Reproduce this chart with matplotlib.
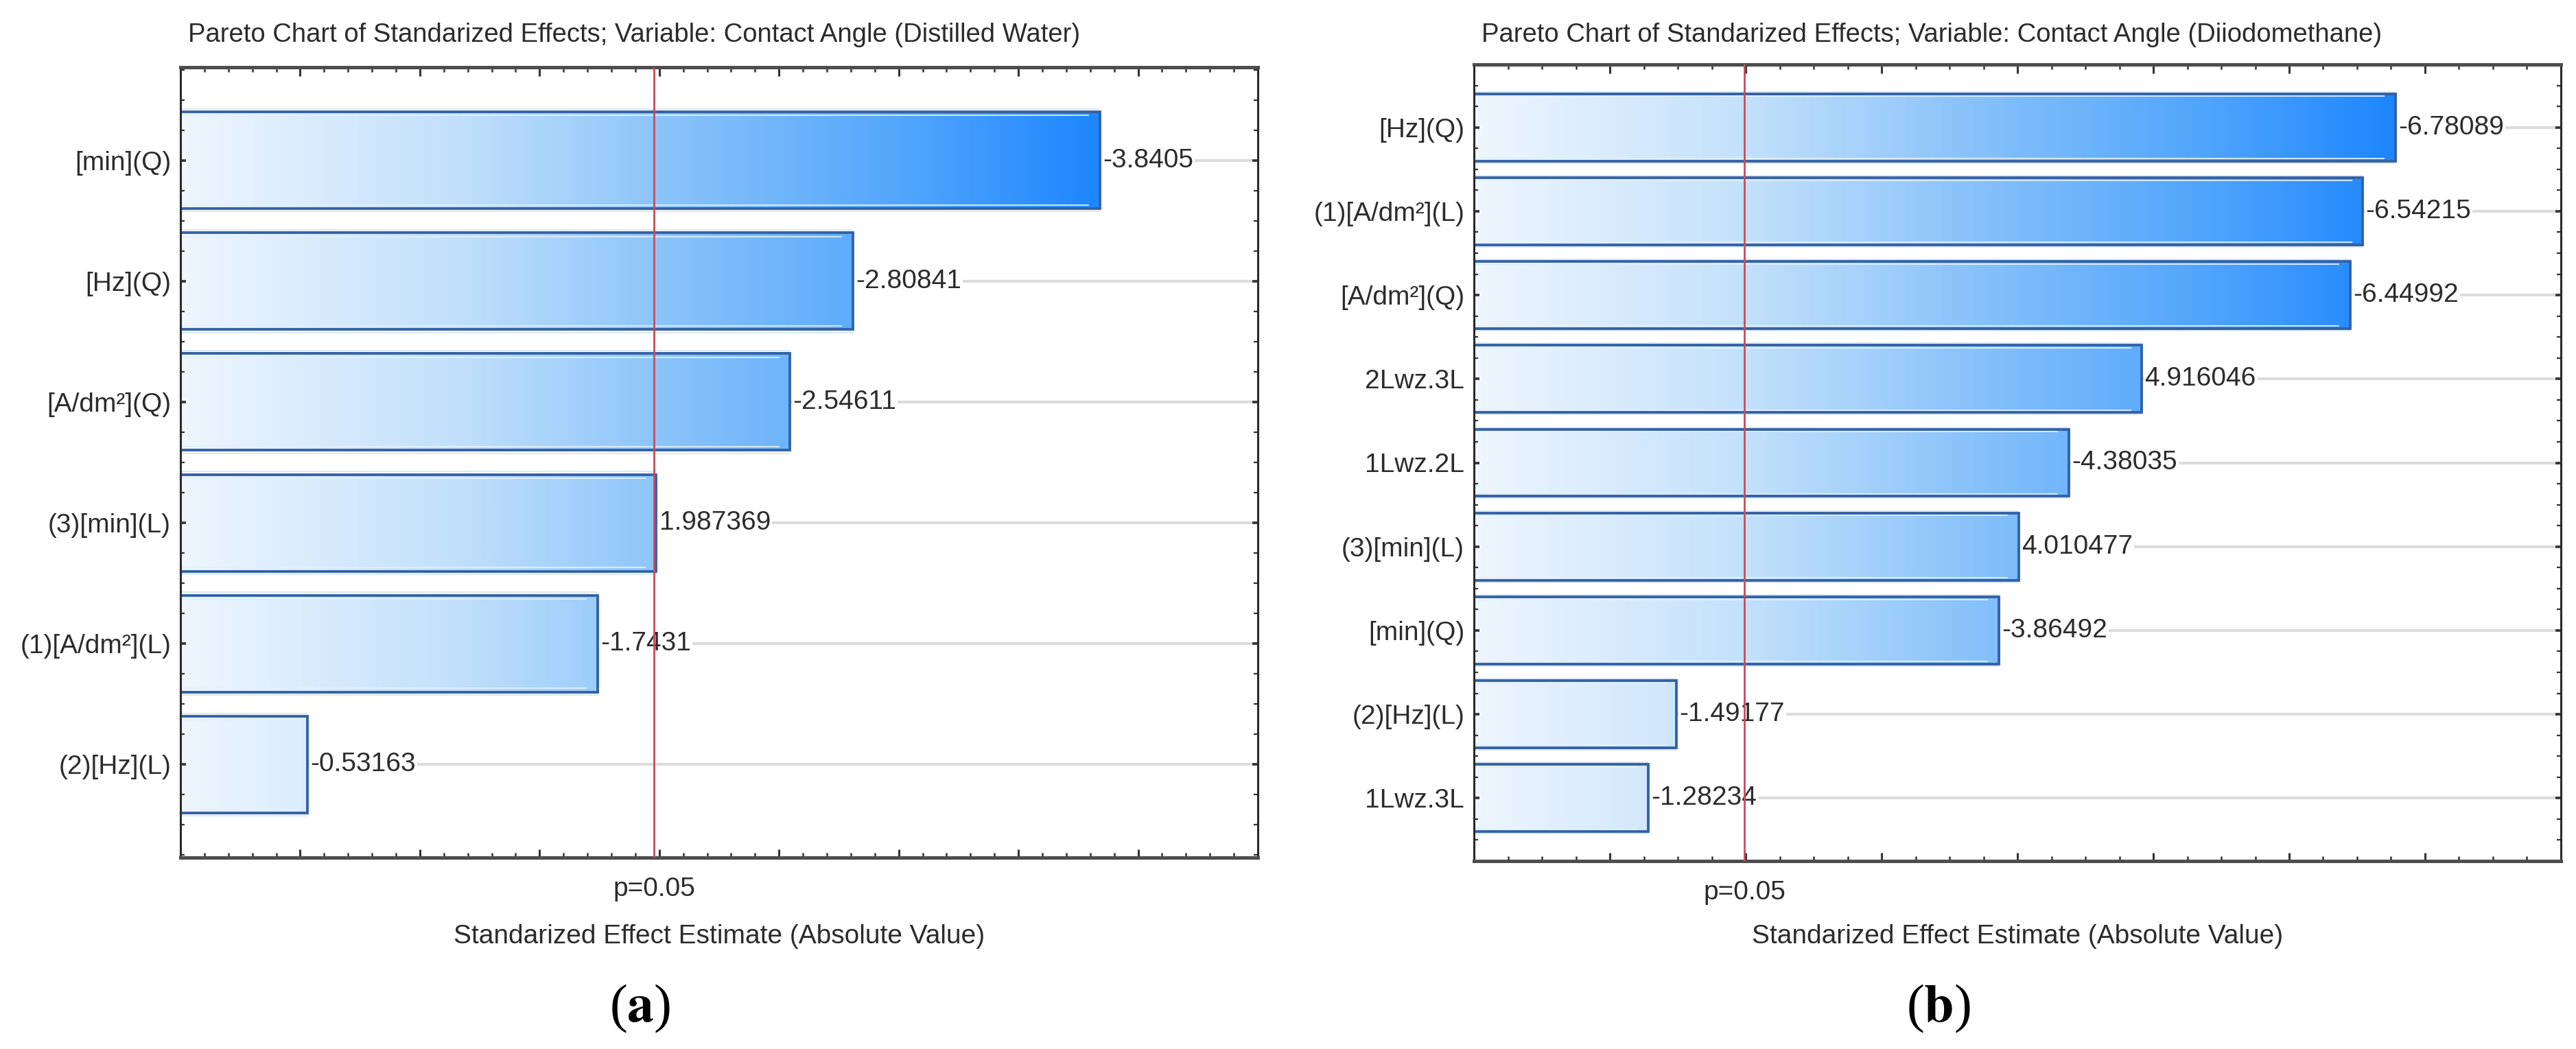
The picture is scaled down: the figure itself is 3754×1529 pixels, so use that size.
import numpy as np
import matplotlib
matplotlib.use("Agg")
import matplotlib.pyplot as plt
from matplotlib.colors import LinearSegmentedColormap
from matplotlib.ticker import MultipleLocator, NullFormatter
from matplotlib.patches import Rectangle

# ---------------- data ----------------
title_a = "Pareto Chart of Standarized Effects; Variable: Contact Angle (Distilled Water)"
labels_a = ["[min](Q)", "[Hz](Q)", "[A/dm²](Q)", "(3)[min](L)", "(1)[A/dm²](L)", "(2)[Hz](L)"]
values_a = [-3.8405, -2.80841, -2.54611, 1.987369, -1.7431, -0.53163]
crit_a = 1.978

title_b = "Pareto Chart of Standarized Effects; Variable: Contact Angle (Diiodomethane)"
labels_b = ["[Hz](Q)", "(1)[A/dm²](L)", "[A/dm²](Q)", "2Lwz.3L", "1Lwz.2L",
            "(3)[min](L)", "[min](Q)", "(2)[Hz](L)", "1Lwz.3L"]
values_b = [-6.78089, -6.54215, -6.44992, 4.916046, -4.38035, 4.010477, -3.86492, -1.49177, -1.28234]
crit_b = 1.99

xlabel = "Standarized Effect Estimate (Absolute Value)"
p_label = "p=0.05"

# ---------------- style ----------------
W, H = 3755, 1529
DPI = 100
SANS = ["Liberation Sans", "DejaVu Sans"]
TXT = "#2b2b2b"
plt.rcParams["mathtext.fontset"] = "stix"

cmap = LinearSegmentedColormap.from_list(
    "pareto", [(0.0, "#EEF6FE"), (0.3, "#C2E0FB"), (0.55, "#86C1FA"), (0.8, "#4FA4FC"), (1.0, "#1E86FE")])

fig = plt.figure(figsize=(W / DPI, H / DPI), dpi=DPI)


def px_axes(l, t, r, b):
    return fig.add_axes([l / W, 1 - b / H, (r - l) / W, (b - t) / H])


def draw_panel(ax, labels, values, crit, xmax, major, minor, margin, title, tag, tag_x):
    n = len(values)
    absv = np.abs(values)
    vmax = absv.max()
    h = 0.8
    ys = np.arange(n)
    # gridlines
    for y in ys:
        ax.axhline(y, color="#DCDCDC", lw=3.0, zorder=0)
    for y, v, s in zip(ys, absv, values):
        grad = np.linspace(0, v / vmax, 256).reshape(1, -1)
        ax.imshow(grad, cmap=cmap, vmin=0, vmax=1, aspect="auto",
                  extent=[0, v, y + h / 2, y - h / 2], interpolation="bilinear", zorder=1)
        ax.add_patch(Rectangle((0, y - h / 2), v, h, fill=False, edgecolor="#3462A6", lw=2.8, zorder=2))
        ax.hlines([y - h / 2 + 0.03, y + h / 2 - 0.03], 0, v - 0.01 * xmax, color="#E2F0FF", lw=1.4, alpha=0.9, zorder=2)
        ax.hlines([y - h / 2 - 0.025, y + h / 2 + 0.025], 0, v, color="#C9DDF0", lw=1.2, alpha=0.8, zorder=2)
        ax.annotate(str(s), xy=(v, y), xytext=(3, 0), textcoords="offset points",
                    ha="left", va="center", fontsize=28, color=TXT, family=SANS,
                    bbox=dict(boxstyle="square,pad=0.05", fc="white", ec="none"), zorder=3)
    ax.axvline(crit, color="#C94A5A", lw=2.0, zorder=4)
    ax.set_xlim(0, xmax)
    ax.set_ylim(n - 1 + margin, -margin)
    ax.set_yticks(ys)
    ax.set_yticklabels(labels, fontsize=28, color=TXT, family=SANS)
    ax.yaxis.set_minor_locator(MultipleLocator(0.25))
    ax.xaxis.set_major_locator(MultipleLocator(major))
    ax.xaxis.set_minor_locator(MultipleLocator(minor))
    ax.xaxis.set_major_formatter(NullFormatter())
    ax.tick_params(axis="both", which="both", direction="in", top=True, right=True, color="#333333")
    ax.tick_params(axis="x", which="major", length=9, width=2.2)
    ax.tick_params(axis="x", which="minor", length=5, width=1.8)
    ax.tick_params(axis="y", which="major", length=6, width=2.6, pad=10)
    ax.tick_params(axis="y", which="minor", length=4, width=1.6)
    for side in ("left", "right"):
        ax.spines[side].set_linewidth(2.2)
        ax.spines[side].set_color("#2a2a2a")
    for side in ("top", "bottom"):
        ax.spines[side].set_linewidth(3.6)
        ax.spines[side].set_color("#4d4d4d")
    ax.annotate(p_label, xy=(crit, 0), xycoords=("data", "axes fraction"),
                xytext=(0, -33), textcoords="offset points", ha="center", va="center",
                fontsize=28, color=TXT, family=SANS)
    bb = ax.get_position()
    cx = (bb.x0 + bb.x1) / 2
    fig.text(cx, 1 - 1365 / H, xlabel, ha="center", va="center", fontsize=28, color=TXT, family=SANS)
    fig.text(bb.x0 + 11 / W, 1 - 51 / H, title, ha="left", va="center", fontsize=27.5, color=TXT, family=SANS)
    fig.text(tag_x / W, 1 - 1470 / H, r"($\mathbf{" + tag + r"}$)", ha="center", va="center",
             fontsize=56, color="black", family=["Liberation Serif", "DejaVu Serif"])


ax_a = px_axes(263, 98, 1833, 1250)
draw_panel(ax_a, labels_a, values_a, crit_a, 4.5, 0.5, 0.1, 0.77, title_a, "a", 933)

ax_b = px_axes(2148, 94, 3732, 1255)
draw_panel(ax_b, labels_b, values_b, crit_b, 8.0, 1.0, 0.25, 0.75, title_b, "b", 2825)

fig.savefig("out.png", dpi=DPI, facecolor="white")
